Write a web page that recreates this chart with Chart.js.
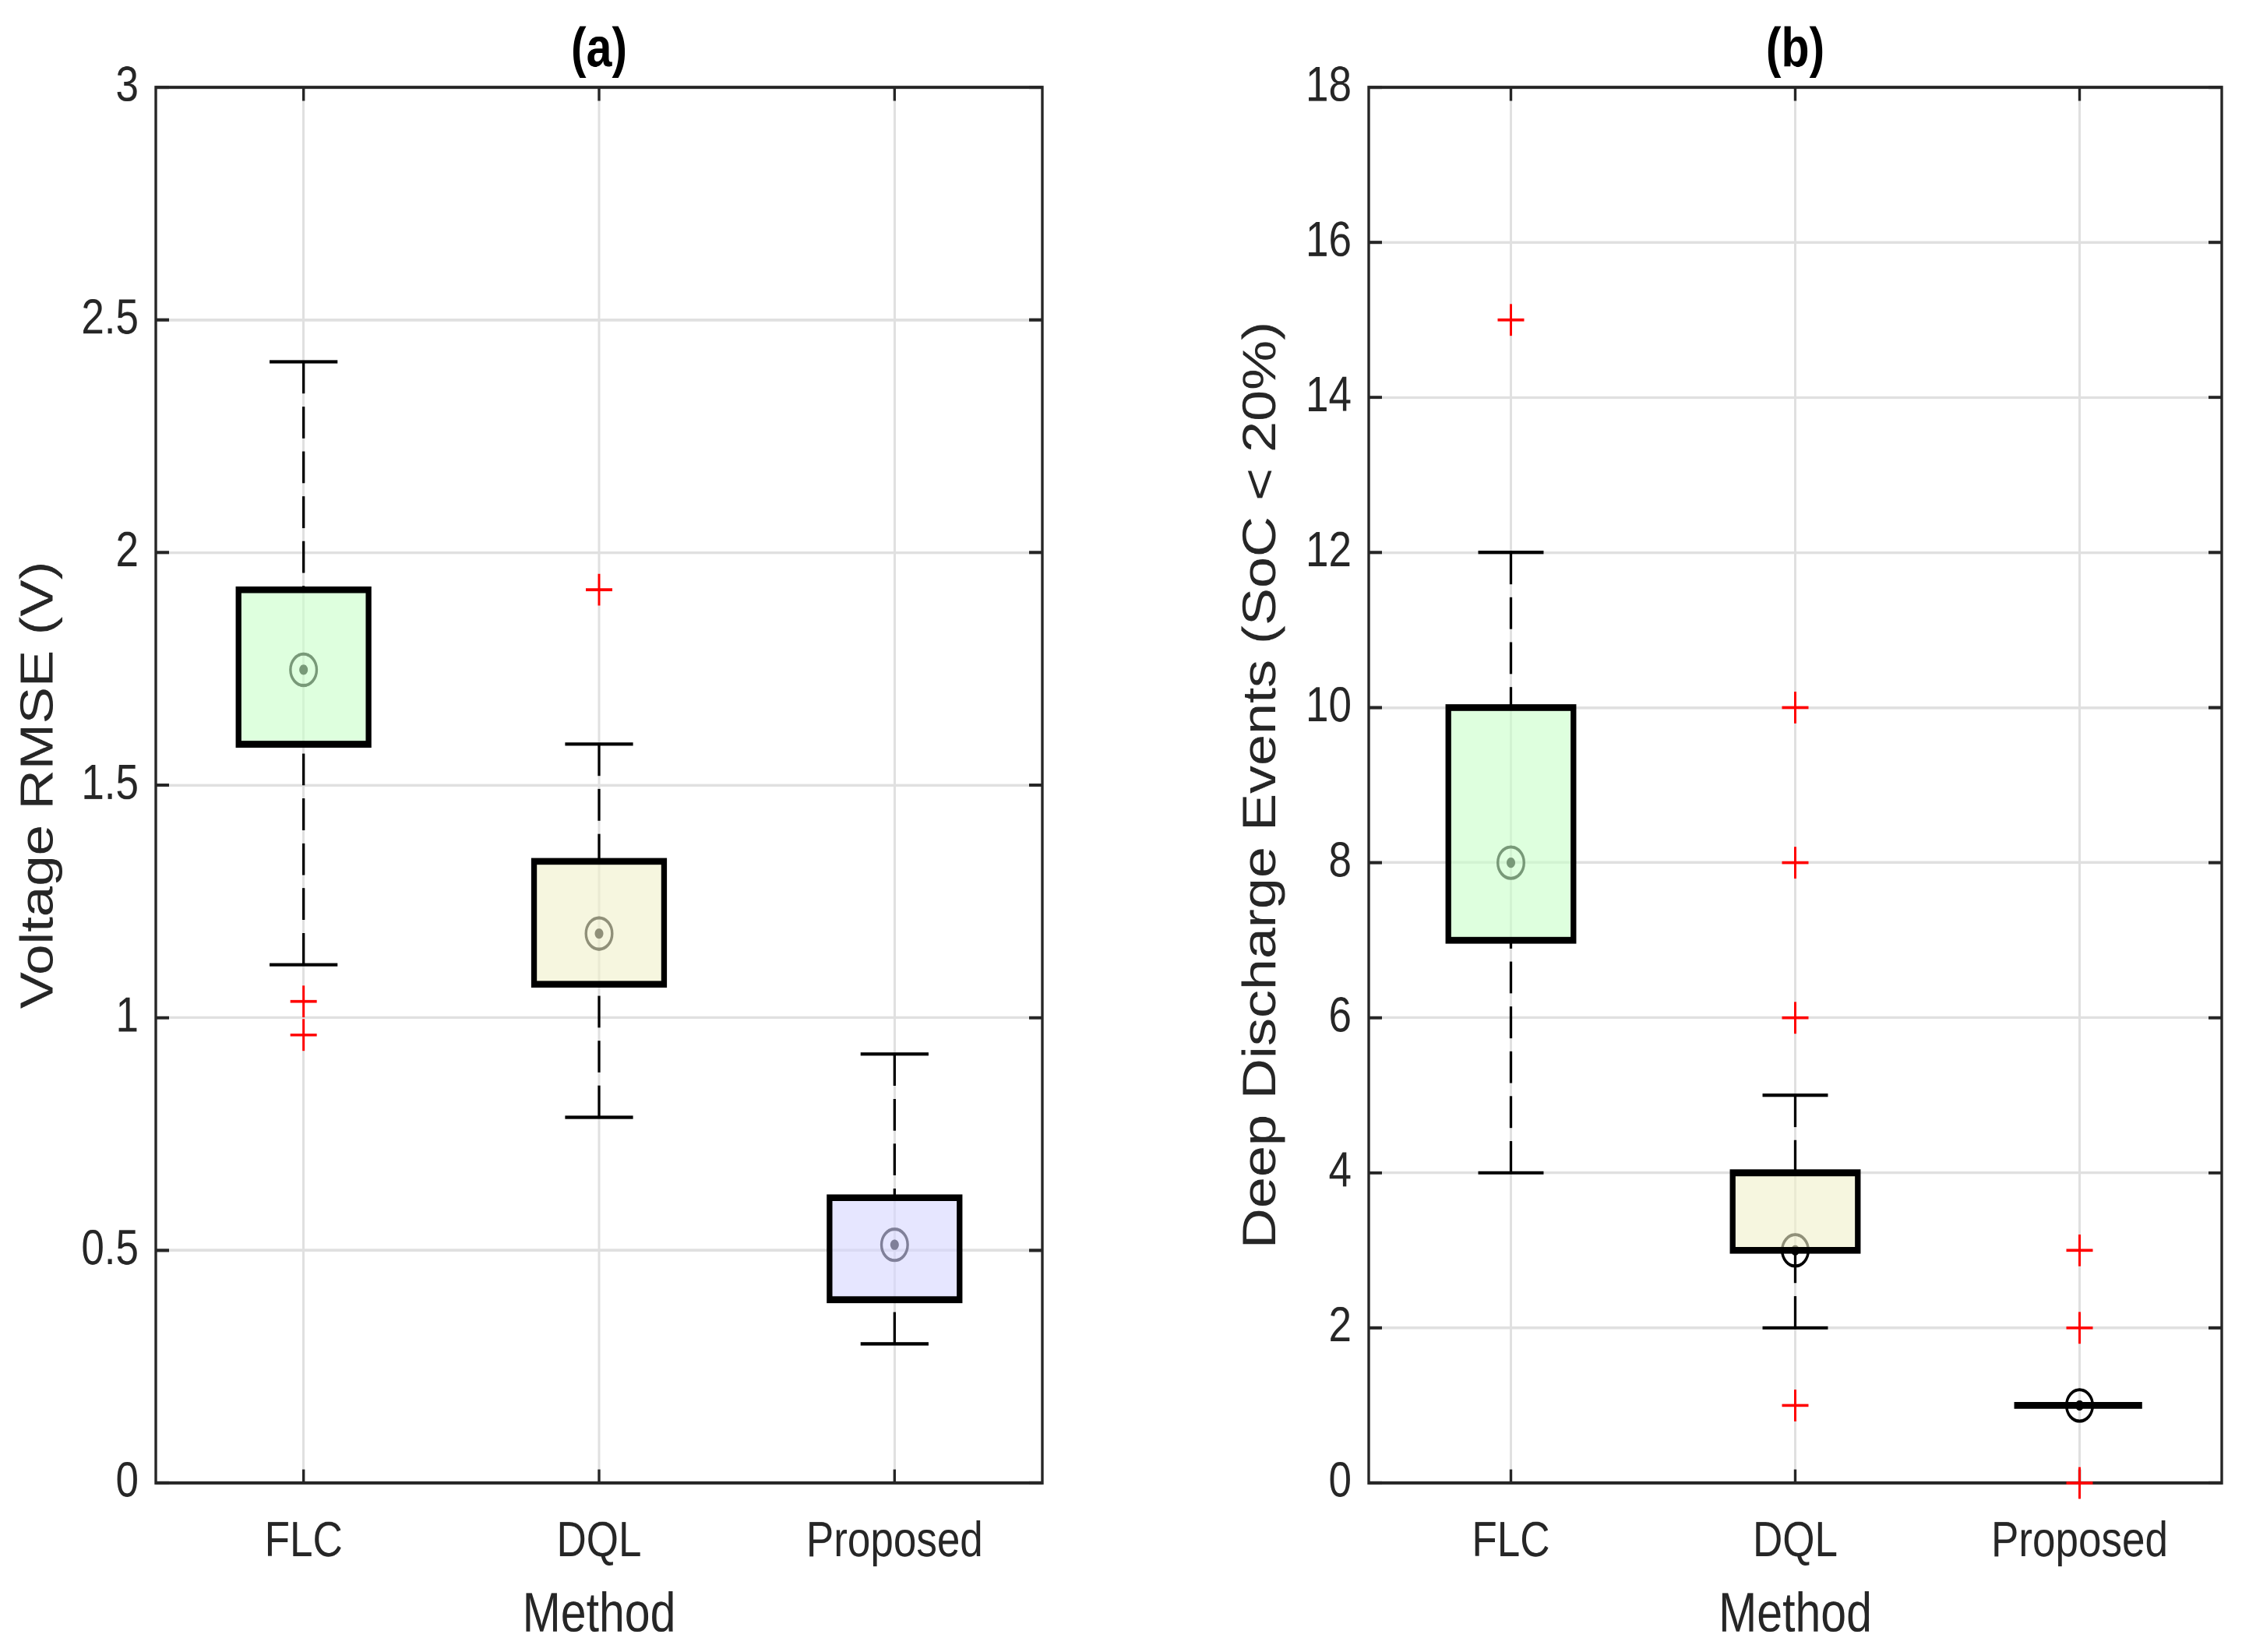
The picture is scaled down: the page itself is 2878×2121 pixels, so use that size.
<!DOCTYPE html>
<html>
<head>
<meta charset="utf-8">
<script src="https://cdn.jsdelivr.net/npm/chart.js@4.4.1/dist/chart.umd.min.js"></script>
<style>
  html, body { margin: 0; padding: 0; background: #ffffff; width: 2878px; height: 2121px; overflow: hidden; }
  canvas { position: absolute; top: 0; }
</style>
</head>
<body>
<canvas id="chartA" width="1440" height="1768" style="left:0px;width:1440px;height:2121px;"></canvas>
<canvas id="chartB" width="1438" height="1768" style="left:1440px;width:1438px;height:2121px;"></canvas>
<script>
// ---------------- data ----------------
const categories = ['FLC', 'DQL', 'Proposed'];

// (a) Voltage RMSE (V)
const rmseQ1 = [1.588, 1.072, 0.394];
const rmseQ3 = [1.920, 1.336, 0.613];
const rmseMedian = [1.748, 1.181, 0.512];
const rmseWhiskerLow = [1.114, 0.786, 0.299];
const rmseWhiskerHigh = [2.410, 1.588, 0.922];
const rmseOutliers = [[1.035, 0.963], [1.920], []];
const rmseTickLabels = ['0', '0.5', '1', '1.5', '2', '2.5', '3'];

// (b) Deep Discharge Events (SoC < 20%)
const ddQ1 = [7, 3, 1];
const ddQ3 = [10, 4, 1];
const ddMedian = [8, 3, 1];
const ddWhiskerLow = [4, 2, 1];
const ddWhiskerHigh = [12, 5, 1];
const ddOutliers = [[15], [10, 8, 6, 1], [3, 2, 0]];
const ddTickLabels = ['0', '2', '4', '6', '8', '10', '12', '14', '16', '18'];

// ---------------- styles ----------------
const boxFills = ['rgba(200,255,200,0.6)', 'rgba(240,240,202,0.6)', 'rgba(213,213,255,0.6)'];
const FONT = "'Liberation Sans', Arial, Helvetica, sans-serif";
const TXT = '#262626';
const GRID = '#e0e0e0';
const BOX_HALF = 0.22;   // half box width in category units
const CAP_HALF = 0.115;  // half whisker-cap width in category units
const DISPLAY_HEIGHT = 2121;

const framePlugin = {
  id: 'frame',
  beforeDatasetsDraw(chart) {
    const { ctx, chartArea: a, scales } = chart;
    ctx.save();
    ctx.strokeStyle = TXT;
    ctx.lineWidth = 3.4;
    ctx.lineCap = 'butt';
    const seg = (x1, y1, x2, y2) => { ctx.beginPath(); ctx.moveTo(x1, y1); ctx.lineTo(x2, y2); ctx.stroke(); };
    const LH = 17, LV = 14.5;
    scales.y.ticks.forEach(t => {
      const y = scales.y.getPixelForValue(t.value);
      seg(a.left, y, a.left + LH, y);
      seg(a.right, y, a.right - LH, y);
    });
    scales.x.ticks.forEach(t => {
      const x = scales.x.getPixelForValue(t.value);
      seg(x, a.bottom, x, a.bottom - LV);
      seg(x, a.top, x, a.top + LV);
    });
    ctx.strokeRect(a.left, a.top, a.right - a.left, a.bottom - a.top);
    ctx.restore();
  }
};

function makeChart(canvasId, s) {
  const X = i => i + 1;
  const whiskerPts = [], capPts = [], boxPts = [], outPts = [];
  categories.forEach((c, i) => {
    const x = X(i);
    whiskerPts.push({ x, y: s.hi[i] }, { x, y: s.q3[i] }, { x, y: null });
    whiskerPts.push({ x, y: s.lo[i] }, { x, y: s.q1[i] }, { x, y: null });
    capPts.push({ x: x - CAP_HALF, y: s.hi[i] }, { x: x + CAP_HALF, y: s.hi[i] }, { x, y: null });
    capPts.push({ x: x - CAP_HALF, y: s.lo[i] }, { x: x + CAP_HALF, y: s.lo[i] }, { x, y: null });
    boxPts.push({ x: x - BOX_HALF, y: s.q1[i] }, { x: x + BOX_HALF, y: s.q1[i] },
                { x: x + BOX_HALF, y: s.q3[i] }, { x: x - BOX_HALF, y: s.q3[i] },
                { x: x - BOX_HALF, y: s.q1[i] }, { x, y: null });
    s.out[i].forEach(v => outPts.push({ x, y: v }));
  });

  const datasets = [
    { type: 'bar', data: categories.map((c, i) => ({ x: X(i), y: [s.q1[i], s.q3[i]] })),
      backgroundColor: boxFills, borderWidth: 0, barPercentage: 0.44, categoryPercentage: 1, order: 5 },
    { type: 'scatter', data: categories.map((c, i) => ({ x: X(i), y: s.med[i] })),
      pointStyle: 'circle', pointRadius: 16.8, pointBorderWidth: 3.4, pointBorderColor: '#000',
      pointBackgroundColor: 'rgba(0,0,0,0)', order: 6 },
    { type: 'scatter', data: categories.map((c, i) => ({ x: X(i), y: s.med[i] })),
      pointStyle: 'circle', pointRadius: 5.5, pointBorderWidth: 0, pointBackgroundColor: '#000', order: 6 },
    { type: 'line', data: whiskerPts, borderColor: '#000', borderWidth: 3.3, borderDash: [34, 14],
      pointRadius: 0, fill: false, spanGaps: false, tension: 0, order: 4 },
    { type: 'line', data: capPts, borderColor: '#000', borderWidth: 3.5, borderDash: [10000, 0],
      pointRadius: 0, fill: false, spanGaps: false, tension: 0, order: 3 },
    { type: 'line', data: boxPts, borderColor: '#000', borderWidth: 7.3, borderDash: [10000, 0],
      borderCapStyle: 'square', borderJoinStyle: 'miter',
      pointRadius: 0, fill: false, spanGaps: false, tension: 0, order: 2 },
    { type: 'scatter', data: outPts, pointStyle: 'cross', pointRadius: 17, pointBorderWidth: 3,
      pointBorderColor: '#ff0000', clip: false, order: 0 }
  ];

  const canvas = document.getElementById(canvasId);
  const chart = new Chart(canvas, {
    type: 'scatter',
    data: { datasets },
    plugins: [framePlugin],
    options: {
      responsive: false,
      animation: false,
      devicePixelRatio: 2,
      events: [],
      layout: { padding: { left: 0, right: s.padRight, top: 0, bottom: 0 } },
      plugins: {
        legend: { display: false },
        tooltip: { enabled: false },
        title: { display: true, text: s.title, fullSize: false, color: '#000',
          font: { family: FONT, size: 59, weight: 'bold' }, padding: { top: 19.2, bottom: 3.4 } }
      },
      scales: {
        x: {
          type: 'linear', min: 0.5, max: 3.5, offset: false,
          afterBuildTicks: sc => { sc.ticks = categories.map((c, i) => ({ value: X(i) })); },
          afterFit: sc => { sc.height = 180.9; },
          ticks: { callback: (v, i) => categories[i], color: TXT, padding: 32,
            font: { family: FONT, size: 53 }, maxRotation: 0, autoSkip: false },
          grid: { color: GRID, lineWidth: 3, drawTicks: false, offset: false },
          border: { display: false },
          title: { display: true, text: 'Method', color: TXT, font: { family: FONT, size: 59 },
            padding: { top: 0, bottom: 3 } }
        },
        y: {
          type: 'linear', min: s.ymin, max: s.ymax,
          afterBuildTicks: sc => { sc.ticks = s.tickLabels.map(t => ({ value: parseFloat(t) })); },
          afterFit: sc => { sc.width = s.yWidth; },
          ticks: { callback: (v, i) => s.tickLabels[i], color: TXT, padding: 22,
            font: { family: FONT, size: 53 } },
          grid: { color: GRID, lineWidth: 3, drawTicks: false },
          border: { display: false },
          title: { display: true, text: s.yTitle, color: TXT, font: { family: FONT, size: s.yTitleSize },
            padding: { top: s.yTitlePad, bottom: 0 } }
        }
      }
    }
  });
  // stretch the drawing vertically like the reference image
  canvas.style.height = DISPLAY_HEIGHT + 'px';
  return chart;
}

makeChart('chartA', {
  title: '(a)', yTitle: 'Voltage RMSE (V)', ymin: 0, ymax: 3, tickLabels: rmseTickLabels,
  q1: rmseQ1, q3: rmseQ3, med: rmseMedian, lo: rmseWhiskerLow, hi: rmseWhiskerHigh, out: rmseOutliers,
  yWidth: 200, padRight: 102, yTitlePad: 15.6, yTitleSize: 59
});
makeChart('chartB', {
  title: '(b)', yTitle: 'Deep Discharge Events (SoC < 20%)', ymin: 0, ymax: 18, tickLabels: ddTickLabels,
  q1: ddQ1, q3: ddQ3, med: ddMedian, lo: ddWhiskerLow, hi: ddWhiskerHigh, out: ddOutliers,
  yWidth: 317, padRight: 26, yTitlePad: 144.6, yTitleSize: 60
});
</script>
</body>
</html>
